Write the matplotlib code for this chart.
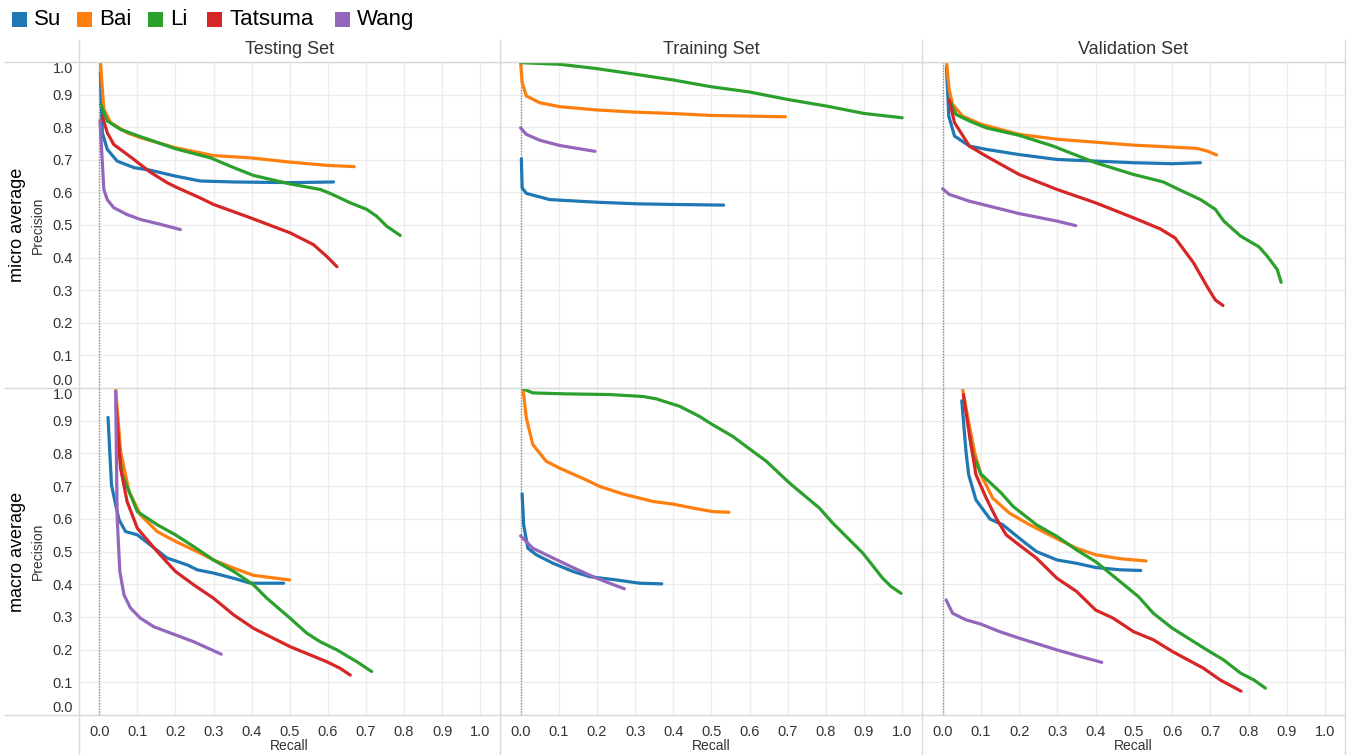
import matplotlib
matplotlib.use('Agg')
import matplotlib.pyplot as plt
from matplotlib.patches import Rectangle
from matplotlib.lines import Line2D

plt.rcParams['font.family'] = ['Liberation Sans', 'DejaVu Sans']

# names and colours of the five models
models = ['Su', 'Bai', 'Li', 'Tatsuma', 'Wang']
colors = ['#1f77b4', '#ff7f0e', '#2ca02c', '#d62728', '#9467bd']
sets = ['Testing Set', 'Training Set', 'Validation Set']
averages = ['micro average', 'macro average']
ticks = [0.0, 0.1, 0.2, 0.3, 0.4, 0.5, 0.6, 0.7, 0.8, 0.9, 1.0]

# (recall, precision) points
# ---- micro average, testing set
su_micro_test = [(0.003, 0.967), (0.008, 0.783), (0.021, 0.732), (0.047, 0.696), (0.091, 0.676), (0.134, 0.668),
                 (0.2, 0.65), (0.265, 0.635), (0.353, 0.632), (0.501, 0.63), (0.615, 0.632)]
bai_micro_test = [(0.003, 1.0), (0.012, 0.855), (0.03, 0.814), (0.073, 0.783), (0.108, 0.768), (0.2, 0.737),
                  (0.3, 0.713), (0.397, 0.706), (0.5, 0.693), (0.597, 0.683), (0.669, 0.679)]
li_micro_test = [(0.004, 0.87), (0.021, 0.819), (0.056, 0.793), (0.108, 0.771), (0.2, 0.734), (0.292, 0.706),
                 (0.353, 0.676), (0.405, 0.652), (0.501, 0.626), (0.58, 0.609), (0.606, 0.597), (0.659, 0.568),
                 (0.702, 0.548), (0.728, 0.527), (0.755, 0.496), (0.79, 0.468)]
tatsuma_micro_test = [(0.008, 0.834), (0.021, 0.783), (0.038, 0.747), (0.091, 0.701), (0.134, 0.662), (0.178, 0.63),
                      (0.2, 0.617), (0.265, 0.583), (0.3, 0.563), (0.397, 0.522), (0.501, 0.476), (0.562, 0.44),
                      (0.597, 0.404), (0.624, 0.372)]
wang_micro_test = [(0.002, 0.82), (0.012, 0.609), (0.021, 0.578), (0.038, 0.553), (0.073, 0.532), (0.108, 0.517),
                   (0.161, 0.502), (0.213, 0.486)]

# ---- micro average, training set
su_micro_train = [(0.002, 0.703), (0.004, 0.614), (0.015, 0.597), (0.076, 0.578), (0.198, 0.57), (0.303, 0.565),
                  (0.399, 0.563), (0.532, 0.561)]
bai_micro_train = [(0.0, 1.0), (0.004, 0.937), (0.015, 0.896), (0.05, 0.875), (0.102, 0.863), (0.198, 0.853),
                   (0.303, 0.846), (0.399, 0.842), (0.5, 0.836), (0.6, 0.834), (0.694, 0.832)]
li_micro_train = [(0.0, 0.998), (0.102, 0.993), (0.198, 0.98), (0.303, 0.962), (0.399, 0.945), (0.5, 0.924),
                  (0.6, 0.908), (0.7, 0.885), (0.801, 0.865), (0.901, 0.842), (1.0, 0.829)]
tatsuma_micro_train = []
wang_micro_train = [(0.0, 0.798), (0.015, 0.778), (0.05, 0.76), (0.102, 0.744), (0.195, 0.726)]

# ---- micro average, validation set
su_micro_val = [(0.01, 0.983), (0.016, 0.834), (0.031, 0.773), (0.07, 0.742), (0.114, 0.732), (0.2, 0.716),
                (0.299, 0.701), (0.4, 0.696), (0.499, 0.691), (0.601, 0.688), (0.674, 0.691)]
bai_micro_val = [(0.01, 1.0), (0.017, 0.916), (0.026, 0.87), (0.052, 0.834), (0.101, 0.809), (0.2, 0.778),
                 (0.299, 0.763), (0.4, 0.754), (0.499, 0.745), (0.601, 0.739), (0.665, 0.735), (0.691, 0.727),
                 (0.716, 0.715)]
li_micro_val = [(0.017, 0.885), (0.035, 0.839), (0.07, 0.819), (0.114, 0.798), (0.2, 0.775), (0.289, 0.742),
                (0.332, 0.722), (0.4, 0.691), (0.499, 0.655), (0.577, 0.632), (0.621, 0.607), (0.674, 0.578),
                (0.713, 0.548), (0.735, 0.512), (0.779, 0.466), (0.827, 0.433), (0.849, 0.404), (0.875, 0.363),
                (0.885, 0.324)]
tatsuma_micro_val = [(0.017, 0.885), (0.031, 0.814), (0.07, 0.742), (0.114, 0.711), (0.2, 0.655), (0.299, 0.609),
                     (0.4, 0.568), (0.499, 0.522), (0.569, 0.488), (0.608, 0.46), (0.656, 0.384), (0.691, 0.312),
                     (0.713, 0.27), (0.733, 0.253)]
wang_micro_val = [(0.0, 0.611), (0.017, 0.594), (0.07, 0.573), (0.2, 0.535), (0.299, 0.512), (0.348, 0.498)]

# ---- macro average, testing set
su_macro_test = [(0.023, 0.91), (0.032, 0.704), (0.043, 0.643), (0.052, 0.597), (0.069, 0.561), (0.1, 0.551),
                 (0.134, 0.52), (0.178, 0.48), (0.231, 0.459), (0.257, 0.444), (0.3, 0.434), (0.353, 0.418),
                 (0.397, 0.403), (0.484, 0.403)]
bai_macro_test = [(0.043, 1.0), (0.056, 0.806), (0.078, 0.684), (0.108, 0.612), (0.152, 0.561), (0.2, 0.531),
                  (0.265, 0.495), (0.3, 0.474), (0.353, 0.449), (0.405, 0.427), (0.5, 0.413)]
li_macro_test = [(0.047, 0.85), (0.06, 0.735), (0.1, 0.622), (0.152, 0.582), (0.2, 0.551), (0.248, 0.515),
                 (0.3, 0.474), (0.353, 0.439), (0.405, 0.398), (0.44, 0.357), (0.501, 0.296), (0.545, 0.25),
                 (0.58, 0.224), (0.624, 0.199), (0.676, 0.163), (0.715, 0.133)]
tatsuma_macro_test = [(0.044, 0.95), (0.056, 0.755), (0.073, 0.653), (0.1, 0.571), (0.152, 0.5), (0.2, 0.439),
                      (0.248, 0.398), (0.3, 0.357), (0.353, 0.306), (0.405, 0.265), (0.501, 0.209), (0.597, 0.163),
                      (0.632, 0.143), (0.659, 0.122)]
wang_macro_test = [(0.043, 0.99), (0.047, 0.602), (0.054, 0.439), (0.065, 0.367), (0.082, 0.327), (0.108, 0.296),
                   (0.143, 0.27), (0.2, 0.245), (0.248, 0.224), (0.32, 0.186)]

# ---- macro average, training set
su_macro_train = [(0.004, 0.676), (0.008, 0.582), (0.019, 0.51), (0.041, 0.49), (0.085, 0.464), (0.137, 0.439),
                  (0.181, 0.423), (0.251, 0.413), (0.312, 0.403), (0.37, 0.401)]
bai_macro_train = [(0.006, 1.0), (0.015, 0.908), (0.032, 0.827), (0.067, 0.776), (0.102, 0.755), (0.172, 0.719),
                   (0.207, 0.699), (0.268, 0.676), (0.347, 0.653), (0.399, 0.645), (0.46, 0.631), (0.504, 0.622),
                   (0.546, 0.62)]
li_macro_train = [(0.006, 0.998), (0.032, 0.985), (0.12, 0.982), (0.233, 0.98), (0.321, 0.974), (0.355, 0.967),
                  (0.417, 0.944), (0.469, 0.913), (0.5, 0.89), (0.556, 0.852), (0.609, 0.806), (0.644, 0.776),
                  (0.705, 0.709), (0.783, 0.633), (0.818, 0.587), (0.897, 0.495), (0.949, 0.418), (0.971, 0.393),
                  (0.997, 0.372)]
tatsuma_macro_train = []
wang_macro_train = [(0.0, 0.548), (0.032, 0.51), (0.085, 0.48), (0.137, 0.451), (0.19, 0.423), (0.233, 0.403),
                    (0.272, 0.386)]

# ---- macro average, validation set
su_macro_val = [(0.05, 0.961), (0.061, 0.806), (0.068, 0.735), (0.087, 0.658), (0.124, 0.599), (0.157, 0.582),
                (0.2, 0.541), (0.245, 0.5), (0.299, 0.474), (0.35, 0.464), (0.4, 0.451), (0.464, 0.444),
                (0.518, 0.442)]
bai_macro_val = [(0.052, 0.998), (0.066, 0.908), (0.083, 0.806), (0.1, 0.735), (0.131, 0.663), (0.175, 0.617),
                 (0.227, 0.582), (0.299, 0.539), (0.35, 0.51), (0.4, 0.49), (0.464, 0.478), (0.532, 0.471)]
li_macro_val = [(0.07, 0.857), (0.079, 0.796), (0.1, 0.737), (0.153, 0.679), (0.184, 0.638), (0.245, 0.582),
                (0.299, 0.546), (0.35, 0.505), (0.4, 0.469), (0.464, 0.408), (0.512, 0.362), (0.551, 0.311),
                (0.601, 0.265), (0.691, 0.199), (0.735, 0.168), (0.779, 0.128), (0.814, 0.107), (0.844, 0.082)]
tatsuma_macro_val = [(0.054, 0.98), (0.07, 0.857), (0.087, 0.735), (0.114, 0.663), (0.14, 0.602), (0.166, 0.551),
                     (0.2, 0.52), (0.245, 0.48), (0.299, 0.418), (0.35, 0.378), (0.4, 0.321), (0.446, 0.296),
                     (0.499, 0.255), (0.551, 0.23), (0.601, 0.194), (0.682, 0.143), (0.726, 0.107), (0.78, 0.073)]
wang_macro_val = [(0.009, 0.352), (0.026, 0.311), (0.061, 0.291), (0.1, 0.278), (0.149, 0.255), (0.2, 0.235),
                  (0.299, 0.199), (0.35, 0.182), (0.416, 0.161)]

curves = {
    ('micro average', 'Testing Set'): [su_micro_test, bai_micro_test, li_micro_test, tatsuma_micro_test, wang_micro_test],
    ('micro average', 'Training Set'): [su_micro_train, bai_micro_train, li_micro_train, tatsuma_micro_train, wang_micro_train],
    ('micro average', 'Validation Set'): [su_micro_val, bai_micro_val, li_micro_val, tatsuma_micro_val, wang_micro_val],
    ('macro average', 'Testing Set'): [su_macro_test, bai_macro_test, li_macro_test, tatsuma_macro_test, wang_macro_test],
    ('macro average', 'Training Set'): [su_macro_train, bai_macro_train, li_macro_train, tatsuma_macro_train, wang_macro_train],
    ('macro average', 'Validation Set'): [su_macro_val, bai_macro_val, li_macro_val, tatsuma_macro_val, wang_macro_val],
}

W, H = 1350, 755
fig = plt.figure(figsize=(W / 100, H / 100), dpi=100)
txt = '#333333'


def fx(px):
    return px / W


def fy(py):
    return 1 - py / H


col_edges = [78.7, 500, 922, 1345]
row_edges = [62, 388, 715]

for r, avg in enumerate(averages):
    for c, name in enumerate(sets):
        x0, x1 = col_edges[c], col_edges[c + 1]
        y0, y1 = row_edges[r], row_edges[r + 1]
        ax = fig.add_axes([fx(x0), fy(y1), fx(x1) - fx(x0), (y1 - y0) / H])
        for pts, col in zip(curves[(avg, name)], colors):
            if not pts:
                continue
            xs = [p[0] for p in pts]
            ys = [p[1] for p in pts]
            ax.plot(xs, ys, color=col, lw=2.3, solid_capstyle='round', solid_joinstyle='round', zorder=3)
        ax.axvline(0, color='#8c8c8c', lw=1, ls=(0, (1, 1)), zorder=2)
        ax.set_xlim(-0.054, 1.052)
        ax.set_ylim(0, 1)
        ax.set_xticks(ticks)
        ax.set_yticks(ticks)
        ax.grid(True, color='#ececec', lw=1)
        ax.set_axisbelow(True)
        for s in ax.spines.values():
            s.set_visible(False)
        ax.tick_params(length=0, labelsize=10.5, colors=txt, pad=4)
        if c == 0:
            ax.set_yticklabels(['%.1f' % t for t in ticks])
            labs = ax.get_yticklabels()
            labs[0].set_va('bottom')
            labs[-1].set_va('top')
        else:
            ax.set_yticklabels([])
        if r == 1:
            ax.set_xticklabels(['%.1f' % t for t in ticks])
            ax.tick_params(axis='x', pad=7)
            fig.text(fx((x0 + x1) / 2), fy(746), 'Recall', ha='center', va='center', fontsize=10, color=txt)
        else:
            ax.set_xticklabels([])
        if r == 0:
            fig.text(fx((x0 + x1) / 2), fy(50), name, ha='center', va='center', fontsize=13, color=txt)
    yc = (row_edges[r] + row_edges[r + 1]) / 2
    fig.text(fx(18), fy(yc), avg, rotation=90, ha='center', va='center', fontsize=13, color='black')
    fig.text(fx(38), fy(yc), 'Precision', rotation=90, ha='center', va='center', fontsize=10, color=txt)

# pane dividers
div = '#d9d9d9'
for py in row_edges:
    fig.add_artist(Line2D([fx(5), fx(1345)], [fy(py), fy(py)], color=div, lw=1))
for px in col_edges:
    fig.add_artist(Line2D([fx(px), fx(px)], [fy(40), fy(755)], color=div, lw=1))

# legend
leg_sq = [12, 77, 148, 207, 335]
for name, col, px in zip(models, colors, leg_sq):
    fig.add_artist(Rectangle((fx(px), fy(27)), 15 / W, 15 / H, color=col, lw=0))
    fig.text(fx(px + 22), fy(19.5), name, ha='left', va='center', fontsize=16, color='black')

fig.savefig('out.png', dpi=100)
